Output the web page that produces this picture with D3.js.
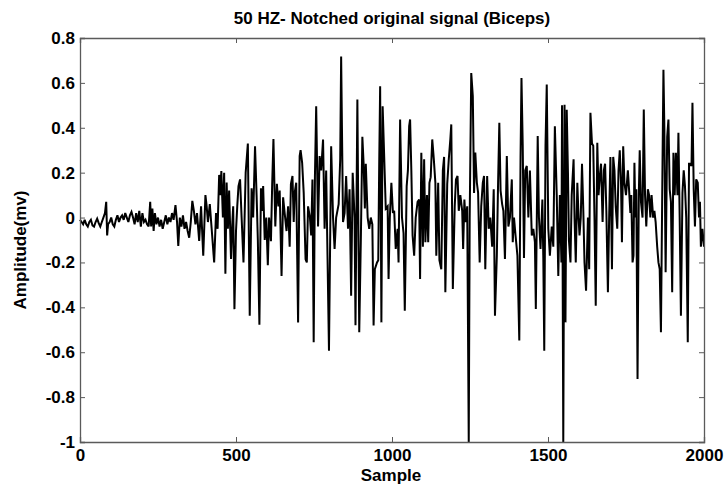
<!DOCTYPE html>
<html><head><meta charset="utf-8">
<script src="https://cdn.jsdelivr.net/npm/d3@7"></script>
<style>body{margin:0;background:#fff}svg{display:block}text{font-family:"Liberation Sans",Arial,sans-serif;font-weight:bold}</style>
</head><body><svg id="c" width="728" height="488"></svg>
<script>
const title = "50 HZ- Notched original signal (Biceps)";
const xLabel = "Sample";
const yLabel = "Amplitude(mv)";
const xTicks = [0, 500, 1000, 1500, 2000];
const yTicks = [-1, -0.8, -0.6, -0.4, -0.2, 0, 0.2, 0.4, 0.6, 0.8];
const sampleIdx = [0,5,10,15,20,25,30,35,40,45,50,55,60,65,70,75,80,84,87,90,95,100,105,110,115,120,125,130,135,140,145,150,155,160,165,170,175,180,185,190,195,200,205,210,215,220,225,228,232,236,240,245,250,255,260,265,270,275,280,285,290,295,300,306,311,315,320,325,330,335,340,345,350,355,360,365,370,375,382,388,395,402,406,410,416,422,430,436,441,446,450,453,458,462,466,470,474,478,484,488,491,495,500,504,508,513,518,524,531,538,544,550,555,561,566,570,575,580,584,587,592,597,602,606,612,616,620,626,631,636,640,646,651,656,662,667,672,676,681,685,688,693,699,704,707,712,717,723,727,731,737,741,745,749,753,757,763,768,773,779,784,789,798,805,811,816,821,829,834,837,843,848,853,859,864,869,874,880,883,889,895,900,905,909,913,916,922,927,932,937,941,945,952,956,959,962,966,970,975,980,986,989,993,998,1003,1007,1012,1018,1021,1026,1032,1037,1041,1047,1051,1055,1058,1062,1066,1071,1076,1082,1087,1090,1094,1099,1103,1107,1112,1116,1120,1124,1129,1134,1139,1142,1148,1152,1158,1163,1167,1171,1177,1182,1187,1190,1195,1201,1205,1210,1214,1219,1225,1228,1232,1236,1241,1246,1249,1254,1259,1263,1267,1272,1276,1281,1286,1291,1295,1299,1305,1310,1315,1321,1326,1330,1336,1340,1344,1348,1353,1357,1362,1368,1373,1378,1384,1387,1391,1396,1402,1408,1412,1415,1419,1423,1427,1432,1437,1442,1448,1453,1458,1461,1467,1471,1476,1482,1485,1488,1492,1496,1501,1506,1512,1517,1522,1528,1533,1538,1543,1545,1549,1553,1556,1560,1564,1567,1572,1576,1582,1585,1589,1594,1598,1601,1605,1609,1613,1617,1622,1628,1632,1636,1641,1645,1649,1653,1658,1662,1666,1670,1675,1679,1683,1687,1692,1696,1700,1705,1709,1713,1717,1722,1726,1730,1734,1737,1741,1745,1750,1756,1760,1764,1767,1771,1774,1777,1780,1783,1787,1791,1794,1798,1803,1807,1811,1815,1820,1824,1828,1832,1837,1841,1845,1850,1854,1858,1862,1867,1870,1873,1877,1882,1886,1890,1894,1898,1902,1906,1910,1915,1918,1922,1926,1931,1935,1939,1943,1948,1952,1955,1960,1963,1967,1971,1975,1980,1984,1987,1990,1995,2000];
const amplitude = [-0.01,-0.02,-0.03,-0.01,-0.03,-0.04,-0.02,-0.01,-0.035,-0.04,-0.02,-0.005,-0.025,-0.04,-0.02,0.0,0.02,0.07,-0.08,-0.03,-0.02,0.0,-0.03,-0.04,-0.01,0.01,-0.02,0.0,0.01,-0.01,0.02,0.0,-0.02,0.01,0.025,0.0,-0.03,0.02,-0.02,0.03,-0.04,0.02,-0.02,-0.01,-0.03,-0.04,0.07,-0.04,0.04,-0.06,0.02,-0.03,0.0,-0.04,-0.01,-0.05,-0.02,0.01,-0.03,0.0,-0.02,0.02,-0.01,0.055,-0.02,-0.126,0.0,-0.04,0.01,-0.05,-0.02,-0.06,-0.09,-0.02,0.074,0.03,-0.03,0.02,-0.104,0.05,-0.17,0.1,0.05,-0.02,0.06,-0.05,-0.2,0.02,-0.05,0.19,0.1,0.207,0.0,0.2,-0.25,0.156,-0.05,0.12,-0.185,-0.03,0.05,-0.408,-0.06,0.05,0.14,0.17,0.0,-0.2,0.2,0.33,-0.437,0.13,0.0,0.318,0.1,-0.1,-0.477,0.13,0.03,0.14,-0.1,0.0,-0.212,0.0,-0.105,0.15,0.35,-0.04,0.15,0.05,0.12,-0.26,0.09,0.02,-0.06,0.05,-0.13,0.15,0.185,-0.02,0.11,0.155,-0.467,0.274,0.30,0.244,0.11,-0.186,-0.2,0.05,0.0,-0.08,0.17,-0.556,0.185,0.496,-0.04,0.274,0.21,0.348,-0.05,0.21,-0.593,0.318,0.0,-0.14,0.0,0.06,0.26,0.718,-0.02,0.02,0.185,-0.05,0.126,-0.348,0.2,0.0,-0.48,0.526,-0.511,-0.11,0.36,0.24,0.04,0.24,0.0,-0.05,0.0,-0.03,-0.481,-0.23,-0.2,-0.19,0.24,0.585,-0.467,0.496,0.27,0.04,0.05,-0.274,0.0,0.155,0.02,0.03,-0.14,-0.05,-0.2,0.437,0.0,-0.07,-0.415,0.14,0.21,0.407,0.437,0.21,-0.08,-0.17,0.0,0.07,0.08,-0.274,0.289,-0.13,0.26,-0.11,0.1,-0.11,0.155,0.18,0.348,0.26,0.155,-0.17,0.155,-0.19,-0.23,0.21,0.27,-0.333,0.15,0.26,0.35,0.415,-0.318,0.05,0.17,0.185,0.03,0.1,0.03,-0.14,0.08,-0.02,0.05,-1.0,0.0,0.644,0.54,0.11,0.29,0.155,0.11,-0.2,0.05,0.155,0.185,-0.23,0.185,-0.05,0.0,-0.13,0.126,-0.437,-0.17,0.155,0.422,0.12,0.06,0.03,-0.185,0.274,-0.04,0.0,0.17,-0.11,0.0,-0.08,-0.17,-0.548,0.27,0.622,0.32,-0.18,0.21,0.23,0.0,0.21,-0.08,-0.05,-0.11,-0.407,0.363,0.0,-0.14,0.08,-0.185,-0.593,0.32,0.593,-0.05,-0.17,-0.04,-0.13,0.407,0.1,-0.26,0.1,-0.2,0.5,-1.0,0.503,-0.467,0.48,0.2,-0.1,-0.2,0.1,0.26,0.0,-0.2,0.155,0.0,-0.08,0.0,0.24,0.04,-0.2,-0.326,0.0,-0.23,0.467,0.33,0.32,0.0,-0.393,0.333,0.1,0.185,0.24,-0.02,0.21,0.24,0.03,-0.333,0.0,0.27,-0.23,0.27,0.21,0.05,-0.05,0.21,0.30,0.155,-0.11,0.318,0.155,0.1,0.21,0.12,0.02,0.1,-0.2,-0.17,0.244,0.0,0.126,-0.719,0.1,0.30,0.07,0.0,0.481,0.1,-0.04,0.126,0.1,0.0,0.1,0.0,0.03,-0.02,-0.13,-0.2,-0.23,-0.511,0.24,0.659,0.39,-0.244,0.36,0.437,0.126,0.07,-0.333,0.289,0.1,0.289,0.1,0.378,0.0,-0.437,0.11,0.21,0.14,0.0,-0.556,0.24,0.24,0.23,0.511,0.126,-0.04,0.17,0.155,0.0,0.07,-0.13,-0.05,-0.13];

const svg = d3.select("#c");
const L = 80, R = 704, T = 38, B = 442;
const x = d3.scaleLinear().domain([0, 2000]).range([L, R]);
const y = d3.scaleLinear().domain([-1, 0.8]).range([B, T]);

const data = sampleIdx.map((s, i) => [s, amplitude[i]]);
svg.append("path").datum(data)
  .attr("fill", "none").attr("stroke", "#000").attr("stroke-width", 2)
  .attr("stroke-linejoin", "miter").attr("stroke-miterlimit", 3)
  .attr("d", d3.line().x(d => x(d[0])).y(d => y(d[1])));

const axisColor = "#5a5a5a";
const yFmt = d => String(+d.toFixed(1));
const gx = svg.append("g").attr("transform", `translate(0,${B})`)
  .call(d3.axisBottom(x).tickValues(xTicks).tickSize(-5).tickPadding(10).tickFormat(d3.format("d")));
const gxt = svg.append("g").attr("transform", `translate(0,${T})`)
  .call(d3.axisTop(x).tickValues(xTicks).tickSize(-5).tickFormat(""));
const gy = svg.append("g").attr("transform", `translate(${L},0)`)
  .call(d3.axisLeft(y).tickValues(yTicks).tickSize(-5).tickPadding(5).tickFormat(yFmt));
const gyr = svg.append("g").attr("transform", `translate(${R},0)`)
  .call(d3.axisRight(y).tickValues(yTicks).tickSize(-5).tickFormat(""));
[gx, gxt, gy, gyr].forEach(g => {
  g.selectAll("path.domain").attr("stroke", axisColor).attr("stroke-width", 1.3);
  g.selectAll(".tick line").attr("stroke", axisColor).attr("stroke-width", 1);
  g.selectAll(".tick text").attr("fill", "#000").style("font-size", "17px").style("font-weight", "bold")
    .style("font-family", '"Liberation Sans", Arial, sans-serif');
});
gx.selectAll(".tick text").attr("dy", "0.55em");

svg.append("text").attr("x", 392).attr("y", 24).attr("text-anchor", "middle")
  .style("font-size", "17px").text(title);
svg.append("text").attr("x", (L + R) / 2 - 1).attr("y", 481).attr("text-anchor", "middle")
  .style("font-size", "17px").text(xLabel);
svg.append("text").attr("transform", `translate(26,${(T + B) / 2 + 10}) rotate(-90)`).attr("text-anchor", "middle")
  .style("font-size", "17px").text(yLabel);
</script></body></html>
